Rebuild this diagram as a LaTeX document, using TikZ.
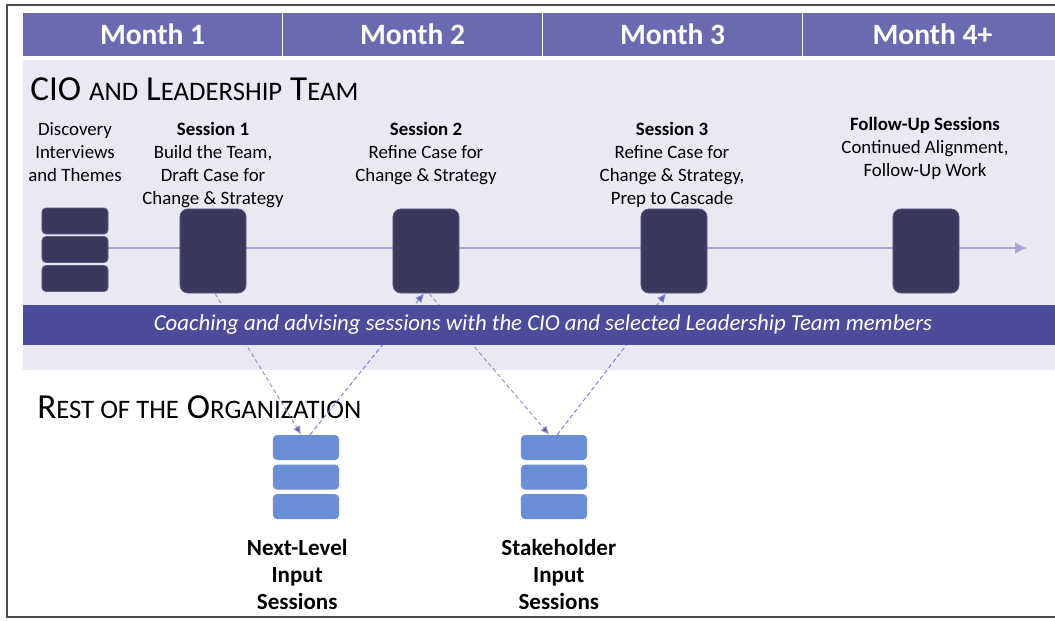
\documentclass[tikz,border=0pt]{standalone}
\usepackage{fontspec}
\setmainfont{Carlito}
\usetikzlibrary{positioning,arrows.meta}

\definecolor{monthbar}{HTML}{6B69B0}
\definecolor{bandbg}{HTML}{E9E8F3}
\definecolor{sessfill}{HTML}{3A395C}
\definecolor{sessedge}{HTML}{5A5984}
\definecolor{coachbar}{HTML}{4B4C9C}
\definecolor{inputfill}{HTML}{6B8FD6}
\definecolor{tline}{HTML}{A9A7D6}
\definecolor{linkdown}{HTML}{9896C4}
\definecolor{linkup}{HTML}{7A80DA}
\definecolor{tipcol}{HTML}{5C5AA8}

% fake small caps: big first letter, smaller rest
\newcommand{\bigsc}[2]{#1{\fontsize{19}{19}\selectfont #2}}

\begin{document}
\begin{tikzpicture}[x=0.025cm,y=-0.025cm,
  month/.style={fill=monthbar,draw=white,line width=1.2pt,text=white,
    font=\fontsize{21}{21}\selectfont\bfseries,minimum width=6.5cm,
    minimum height=1.125cm,inner sep=0},
  txt/.style={align=center,inner sep=0,anchor=north,
    font=\fontsize{13.4}{16.4}\selectfont},
  sess/.style={fill=sessfill,draw=sessedge,line width=0.6pt,rounded corners=0.2cm,
    minimum width=1.65cm,minimum height=2.1cm,inner sep=0},
  disc/.style={fill=sessfill,draw=sessedge,line width=0.6pt,rounded corners=0.1cm,
    minimum width=1.65cm,minimum height=0.65cm,inner sep=0},
  inp/.style={fill=inputfill,rounded corners=0.1cm,
    minimum width=1.65cm,minimum height=0.625cm,inner sep=0},
  inplabel/.style={align=center,inner sep=0,
    font=\fontsize{16.4}{19.2}\selectfont\bfseries},
  heading/.style={anchor=base west,inner sep=0,font=\fontsize{25}{25}\selectfont},
  link/.style={line width=0.7pt,dash pattern=on 3pt off 2pt,
    -{Latex[length=0.22cm,width=0.2cm,fill=tipcol]}}]
\useasboundingbox (0,0) rectangle (1055,620);

% frame
\draw[black!70,line width=0.8pt] (1062,5) -- (7,5) -- (7,617) -- (1062,617);

% light band behind the leadership row
\fill[bandbg] (23,60) rectangle (1060,370);

% month header
\node[month] (m1) at (152.5,34.5) {Month 1};
\node[month] (m2) at (412.5,34.5) {Month 2};
\node[month] (m3) at (672.5,34.5) {Month 3};
\node[month] (m4) at (932.5,34.5) {Month 4+};

\node[heading] (cio) at (30,100) {CIO \bigsc{}{AND} \bigsc{L}{EADERSHIP} \bigsc{T}{EAM}};

% timeline
\coordinate (tlstart) at (108,248);
\coordinate (tlend) at (1027,248);
\draw[tline,line width=1pt,-{Latex[length=0.3cm,width=0.3cm]}] (tlstart) -- (tlend);

% discovery stack
\node[disc] (d1) at (75,221) {};
\node[disc] (d2) at (75,249.5) {};
\node[disc] (d3) at (75,278.5) {};

% sessions
\node[sess] (s1) at (213,251) {};
\node[sess] (s2) at (426,251) {};
\node[sess] (s3) at (674,251) {};
\node[sess] (fu) at (926,251) {};

\node[txt] (dtxt) at (75,122) {Discovery\\Interviews\\and Themes};
\node[txt] (s1txt) at (213,122) {\textbf{Session 1}\\Build the Team,\\Draft Case for\\Change \& Strategy};
\node[txt] (s2txt) at (426,122) {\textbf{Session 2}\\Refine Case for\\Change \& Strategy};
\node[txt] (s3txt) at (672,122) {\textbf{Session 3}\\Refine Case for\\Change \& Strategy,\\Prep to Cascade};
\node[txt] (futxt) at (925,117) {\textbf{Follow-Up Sessions}\\Continued Alignment,\\Follow-Up Work};

% input stacks
\node[inp] (nl1) at (306,447.5) {};
\node[inp,below=0.1cm of nl1] (nl2) {};
\node[inp,below=0.1cm of nl2] (nl3) {};
\node[inp] (sh1) at (554,447.5) {};
\node[inp,below=0.1cm of sh1] (sh2) {};
\node[inp,below=0.1cm of sh2] (sh3) {};

\node[inplabel,below=0.5cm of nl3,xshift=-0.22cm] (nltxt) {Next-Level\\Input\\Sessions};
\node[inplabel,below=0.5cm of sh3,xshift=0.12cm] (shtxt) {Stakeholder\\Input\\Sessions};

\node[heading] (rest) at (37,418) {\bigsc{R}{EST OF THE} \bigsc{O}{RGANIZATION}};

% links between the two groups
\draw[link,linkdown] ([xshift=0.05cm]s1.south) -- ([xshift=-0.12cm]nl1.north);
\draw[link,linkup] ([xshift=0.1cm]nl1.north) -- ([xshift=-0.05cm]s2.south);
\draw[link,linkdown] ([xshift=0.08cm]s2.south) -- ([xshift=-0.12cm]sh1.north);
\draw[link,linkup] ([xshift=0.08cm]sh1.north) -- ([xshift=-0.2cm]s3.south);

% coaching bar over the links
\fill[coachbar] (23,305) rectangle (1060,345);
\node[text=white,font=\fontsize{16.2}{16.2}\selectfont\itshape] (coach) at (543,325)
  {Coaching and advising sessions with the CIO and selected Leadership Team members};
\end{tikzpicture}
\end{document}
